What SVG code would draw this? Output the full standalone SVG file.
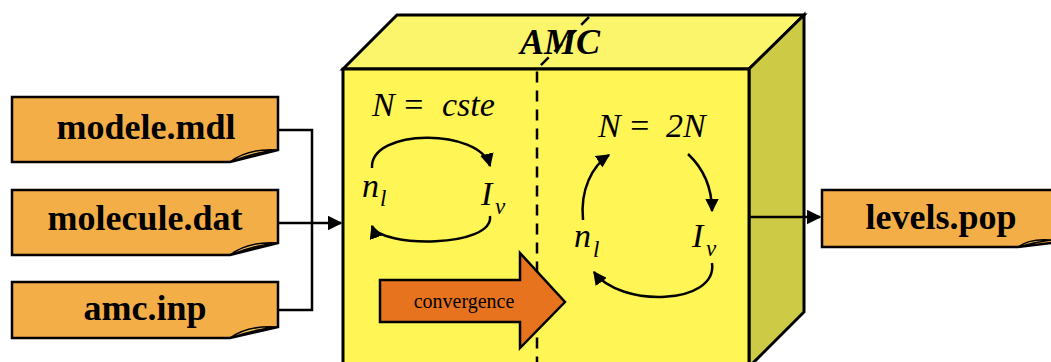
<svg xmlns="http://www.w3.org/2000/svg" width="1051" height="362" viewBox="0 0 1051 362">
<style>
.file{fill:#F4AE48;stroke:#000;stroke-width:2.5;stroke-linejoin:miter}
.fold{fill:#F7C26A;stroke:#000;stroke-width:1.5}
.ser{font-family:"Liberation Serif","Times New Roman","DejaVu Serif",serif}
.ft{font-weight:bold;font-size:36px;fill:#000;text-anchor:middle}
.conn{fill:none;stroke:#000;stroke-width:2.5}
.loop{fill:none;stroke:#000;stroke-width:2.5}
.math{font-style:italic;font-size:34px;fill:#000}
.sub{font-style:italic;font-size:23px;fill:#000}
</style>
<defs>
<marker id="ah" viewBox="0 0 10 10" refX="9" refY="5" markerWidth="5.5" markerHeight="5.5" orient="auto" markerUnits="strokeWidth"><path d="M0,0 L10,5 L0,10 z" fill="#000"/></marker>
<marker id="ahs" viewBox="0 0 10 10" refX="9" refY="5" markerWidth="6" markerHeight="6" orient="auto" markerUnits="strokeWidth"><path d="M0,0 L10,5 L0,10 z" fill="#000"/></marker>
</defs>
<rect width="1051" height="362" fill="#fff"/>
<g id="amc">
<polygon points="343,69 397,15 804,15 749,69" fill="#FBF56C" stroke="#000" stroke-width="3"/>
<polygon points="749,69 804,15 804,312 749,367" fill="#CDCB45" stroke="#000" stroke-width="3"/>
<rect x="343" y="69" width="406" height="300" fill="#FFF555" stroke="#000" stroke-width="3"/>
<text class="ser" x="560" y="54" text-anchor="middle" font-weight="bold" font-style="italic" font-size="36" fill="#000">AMC</text>
<polyline points="589,17 537,69 537,362" fill="none" stroke="#000" stroke-width="2.5" stroke-dasharray="11,8"/>
</g>
<g id="left-loop">
<text class="ser math" y="116"><tspan x="372">N</tspan><tspan x="402">=</tspan><tspan x="442">cste</tspan></text>
<path class="loop" d="M372,168 C370,128 480,128 490,166" marker-end="url(#ah)"/>
<path class="loop" d="M490,216 C494,248 380,248 372,226" marker-end="url(#ah)"/>
<text class="ser math" x="362" y="197">n</text><text class="ser sub" x="380" y="206">l</text>
<text class="ser math" x="481" y="205">I</text><text class="ser sub" x="495" y="214">ν</text>
</g>
<g id="right-loop">
<text class="ser math" y="137"><tspan x="598">N</tspan><tspan x="628">=</tspan><tspan x="666">2N</tspan></text>
<path class="loop" d="M583,220 C580,190 592,166 609,155" marker-end="url(#ah)"/>
<path class="loop" d="M688,154 C705,170 712,190 712,211" marker-end="url(#ah)"/>
<path class="loop" d="M712,263 C718,305 620,308 594,272" marker-end="url(#ah)"/>
<text class="ser math" x="574" y="247">n</text><text class="ser sub" x="593" y="257">l</text>
<text class="ser math" x="692" y="247">I</text><text class="ser sub" x="706" y="256">ν</text>
</g>
<g id="convergence">
<polygon points="380,280 520,280 520,253 565,302 520,348 520,322 380,322" fill="#E8731E" stroke="#000" stroke-width="2.5"/>
<text class="ser" x="464" y="308" text-anchor="middle" font-size="20" fill="#000">convergence</text>
</g>
<g id="modele">
<path class="file" d="M12,97 H278 V150 L230,162 H12 Z"/>
<path class="fold" d="M230,162 Q248,148 278,150 Q255,152 230,162 Z"/>
<text class="ser ft" x="146" y="139">modele.mdl</text>
</g>
<g id="molecule">
<path class="file" d="M12,190 H278 V243 L230,255 H12 Z"/>
<path class="fold" d="M230,255 Q248,241 278,243 Q255,245 230,255 Z"/>
<text class="ser ft" x="145" y="230">molecule.dat</text>
</g>
<g id="amcinp">
<path class="file" d="M12,282 H278 V327 L230,338 H12 Z"/>
<path class="fold" d="M230,338 Q248,325 278,327 Q255,329 230,338 Z"/>
<text class="ser ft" x="145" y="320">amc.inp</text>
</g>
<g id="levels">
<path class="file" d="M822,190 H1060 V242 L1018,247 H822 Z"/>
<path class="fold" d="M1018,247 Q1030,238 1051,240 Q1035,242 1018,247 Z"/>
<text class="ser ft" x="941" y="229">levels.pop</text>
</g>
<g id="connectors">
<polyline class="conn" points="278,130 312,130 312,310 278,310"/>
<line class="conn" x1="278" y1="223" x2="341" y2="223" marker-end="url(#ahs)"/>
<line class="conn" x1="749" y1="217" x2="820" y2="217" marker-end="url(#ahs)"/>
</g>
</svg>
